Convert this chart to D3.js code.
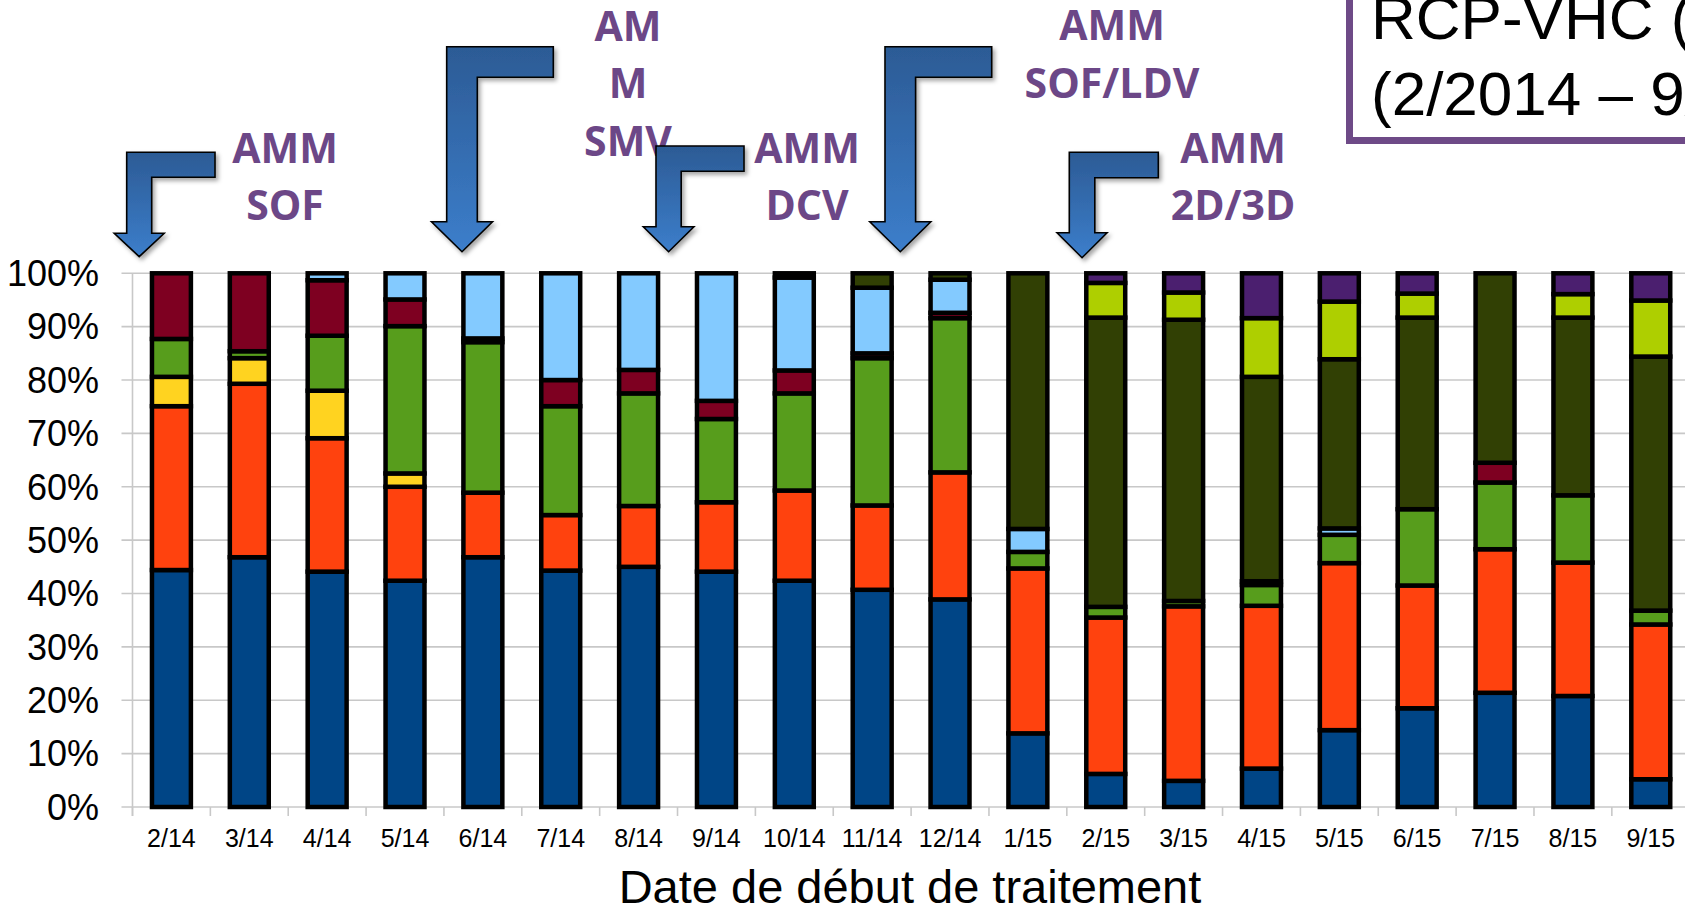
<!DOCTYPE html>
<html>
<head>
<meta charset="utf-8">
<script src="https://cdn.jsdelivr.net/npm/d3@7"></script>
<style>
  html, body { margin: 0; padding: 0; background: #fff; overflow: hidden; }
  svg { display: block; }
</style>
</head>
<body>
<svg id="chart" width="1685" height="912"></svg>
<script>
// Mois de début de traitement
const categories = ["2/14","3/14","4/14","5/14","6/14","7/14","8/14","9/14","10/14","11/14",
                    "12/14","1/15","2/15","3/15","4/15","5/15","6/15","7/15","8/15","9/15"];

// Répartition des schémas (% des patients), du bas vers le haut de chaque barre
const bleu      = [44.4,46.8,44.1,42.4,46.8,44.3,45.0,44.1,42.4,40.7,38.9,13.8, 6.2, 4.9, 7.2,14.4,18.5,21.4,20.8, 5.2];
const orange    = [30.7,32.5,25.0,17.6,12.1,10.4,11.4,13.0,16.9,15.8,23.8,30.9,29.3,32.7,30.5,31.3,23.0,26.9,25.0,29.0];
const jaune     = [ 5.5, 4.8, 8.9, 2.5, 0,   0,   0,   0,   0,   0,   0,   0,   0,   0,   0,   0,   0,   0,   0,   0  ];
const vert      = [ 7.1, 1.3,10.3,27.6,28.2,20.4,21.1,15.6,18.2,27.6,28.9, 3.1, 2.0, 1.0, 3.9, 5.3,14.3,12.5,12.6, 2.6];
const bordeaux  = [12.3,14.6,10.4, 5.0, 0.7, 4.9, 4.4, 3.4, 4.3, 0.9, 1.0, 0,   0,   0,   0.7, 0,   0,   3.7, 0,   0  ];
const bleuClair = [ 0,   0,   1.3, 4.9,12.2,20.0,18.1,23.9,17.4,12.3, 6.2, 4.3, 0,   0,   0,   1.2, 0,   0,   0,   0  ];
const olive     = [ 0,   0,   0,   0,   0,   0,   0,   0,   0.8, 2.7, 1.2,47.9,54.2,52.7,38.3,31.7,35.9,35.5,33.3,47.6];
const vertJaune = [ 0,   0,   0,   0,   0,   0,   0,   0,   0,   0,   0,   0,   6.5, 5.1,11.0,10.8, 4.5, 0,   4.4,10.5];
const violet    = [ 0,   0,   0,   0,   0,   0,   0,   0,   0,   0,   0,   0,   1.8, 3.6, 8.4, 5.3, 3.8, 0,   3.9, 5.1];

const yTicks = [0,10,20,30,40,50,60,70,80,90,100];

// Autorisations de mise sur le marché signalées au-dessus des barres
const approvals = [
  ["AMM","SOF"],
  ["AM","M","SMV"],
  ["AMM","DCV"],
  ["AMM","SOF/LDV"],
  ["AMM","2D/3D"]
];
const titleLines = ["RCP-VHC (", "(2/2014 – 9/2015)"];
const axisTitle = "Date de début de traitement";

// ---------------------------------------------------------------------------
const series = { bleu, orange, jaune, vert, bordeaux, bleuClair, olive, vertJaune, violet };
const keys = Object.keys(series);
const colors = {
  bleu: "#004586", orange: "#ff420e", jaune: "#ffd320", vert: "#579d1c",
  bordeaux: "#7e0021", bleuClair: "#83caff", olive: "#314004",
  vertJaune: "#aecf00", violet: "#4b1f6f"
};

const rows = categories.map((c, i) => {
  const r = { cat: c };
  keys.forEach(k => r[k] = series[k][i]);
  return r;
});

const svg = d3.select("#chart");
const W = 1685, H = 912;
const axisX = 132.5, step = 77.86;
const y0px = 807, y100px = 273.3;

const x = d3.scaleBand()
  .domain(categories)
  .range([axisX, axisX + step * categories.length])
  .paddingInner(0.5)
  .paddingOuter(0.25);

const y = d3.scaleLinear().domain([0, 100]).range([y0px, y100px]);

const font = "'Liberation Sans', Arial, Helvetica, sans-serif";
const purple = "#6c4787";

// Grille horizontale
svg.append("g")
  .selectAll("line")
  .data(yTicks)
  .join("line")
  .attr("x1", axisX - 11).attr("x2", W)
  .attr("y1", d => y(d)).attr("y2", d => y(d))
  .attr("stroke", "#c8c8c8").attr("stroke-width", 1.6);

// Axe vertical
svg.append("line")
  .attr("x1", axisX).attr("x2", axisX)
  .attr("y1", y(100)).attr("y2", y(0) + 9)
  .attr("stroke", "#c8c8c8").attr("stroke-width", 1.6);

// Graduations de l'axe des catégories
const bounds = d3.range(categories.length + 1).map(k => axisX + k * step);
svg.append("g")
  .selectAll("line")
  .data(bounds)
  .join("line")
  .attr("x1", d => d).attr("x2", d => d)
  .attr("y1", y(0)).attr("y2", y(0) + 9)
  .attr("stroke", "#c8c8c8").attr("stroke-width", 1.6);

// Étiquettes de l'axe Y
svg.append("g")
  .selectAll("text")
  .data(yTicks)
  .join("text")
  .attr("x", 99)
  .attr("y", d => y(d) + 12.8)
  .attr("text-anchor", "end")
  .attr("font-family", font)
  .attr("font-size", 36)
  .attr("fill", "#000")
  .text(d => d + "%");

// Barres empilées
const stacked = d3.stack().keys(keys)(rows);
svg.append("g")
  .selectAll("g")
  .data(stacked)
  .join("g")
  .attr("fill", d => colors[d.key])
  .selectAll("rect")
  .data(d => d.filter(s => s[1] - s[0] > 0))
  .join("rect")
  .attr("x", d => x(d.data.cat))
  .attr("width", x.bandwidth())
  .attr("y", d => y(d[1]))
  .attr("height", d => y(d[0]) - y(d[1]))
  .attr("stroke", "#000")
  .attr("stroke-width", 4.5)
  .attr("stroke-linejoin", "miter");

// Étiquettes de l'axe X
svg.append("g")
  .selectAll("text")
  .data(categories)
  .join("text")
  .attr("x", d => x(d) + x.bandwidth() / 2)
  .attr("y", 847)
  .attr("text-anchor", "middle")
  .attr("font-family", font)
  .attr("font-size", 25)
  .attr("fill", "#000")
  .text(d => d);

// Titre de l'axe X
svg.append("text")
  .attr("x", 910).attr("y", 903)
  .attr("text-anchor", "middle")
  .attr("font-family", font)
  .attr("font-size", 47)
  .attr("fill", "#000")
  .text(axisTitle);

// Encadré du titre
svg.append("rect")
  .attr("x", 1349.5).attr("y", -20)
  .attr("width", 420).attr("height", 160.5)
  .attr("fill", "#fff")
  .attr("stroke", "#6e4a87").attr("stroke-width", 7);
svg.append("g")
  .selectAll("text")
  .data(titleLines)
  .join("text")
  .attr("x", 1371)
  .attr("y", (d, i) => 38.5 + i * 76.7)
  .attr("font-family", font)
  .attr("font-size", 62)
  .attr("fill", "#000")
  .text(d => d);

// Flèches coudées et libellés des AMM
const defs = svg.append("defs");
const grad = defs.append("linearGradient")
  .attr("id", "arrowFill").attr("x1", 0).attr("y1", 0).attr("x2", 0).attr("y2", 1);
grad.append("stop").attr("offset", "0%").attr("stop-color", "#2c5b95");
grad.append("stop").attr("offset", "100%").attr("stop-color", "#3c7ecb");
const shadow = defs.append("filter").attr("id", "arrowShadow")
  .attr("x", "-20%").attr("y", "-20%").attr("width", "150%").attr("height", "150%");
shadow.append("feDropShadow")
  .attr("dx", 2.5).attr("dy", 3).attr("stdDeviation", 2.2)
  .attr("flood-color", "#000").attr("flood-opacity", 0.35);

// Géométrie des flèches : bord gauche, largeur du fût, haut, bout de la queue,
// base de la pointe, demi-largeur de la pointe, extrémité
const arrowLayout = [
  { L: 126.7,  w: 25,   T: 152.3, R: 215,    B: 233.3, h: 25,   tip: 256.7 },
  { L: 446.7,  w: 30.6, T: 46.7,  R: 553.3,  B: 221.7, h: 30.5, tip: 251.7 },
  { L: 656,    w: 25.2, T: 146,   R: 744,    B: 226.7, h: 25.3, tip: 251.7 },
  { L: 885,    w: 30.6, T: 46.7,  R: 991.7,  B: 221.7, h: 30.5, tip: 251.7 },
  { L: 1069.3, w: 25.5, T: 152.3, R: 1158.3, B: 232.7, h: 25,   tip: 257.7 }
];
const labelLayout = [
  { cx: 285,  y: 162.7 },
  { cx: 628,  y: 40.7 },
  { cx: 807,  y: 162.7 },
  { cx: 1112, y: 40.2 },
  { cx: 1233, y: 162.7 }
];
const lineStep = 57.6;

const labels = svg.append("g");
approvals.forEach((lines, i) => {
  const p = labelLayout[i];
  labels.append("text")
    .attr("text-anchor", "middle")
    .attr("font-family", "'Open Sans', 'Noto Sans', sans-serif")
    .attr("font-weight", 700)
    .attr("font-size", 41)
    .attr("fill", purple)
    .selectAll("tspan")
    .data(lines)
    .join("tspan")
    .attr("x", p.cx)
    .attr("y", (d, j) => p.y + j * lineStep)
    .text(d => d);
});

const arrowPath = a => {
  const cx = a.L + a.w / 2;
  return d3.line()([
    [a.L, a.T], [a.R, a.T], [a.R, a.T + a.w], [a.L + a.w, a.T + a.w],
    [a.L + a.w, a.B], [cx + a.h, a.B], [cx, a.tip], [cx - a.h, a.B],
    [a.L, a.B]
  ]) + "Z";
};
svg.append("g")
  .selectAll("path")
  .data(arrowLayout)
  .join("path")
  .attr("d", arrowPath)
  .attr("fill", "url(#arrowFill)")
  .attr("stroke", "#000")
  .attr("stroke-width", 1.6)
  .attr("stroke-linejoin", "miter")
  .attr("filter", "url(#arrowShadow)");
</script>
</body>
</html>
